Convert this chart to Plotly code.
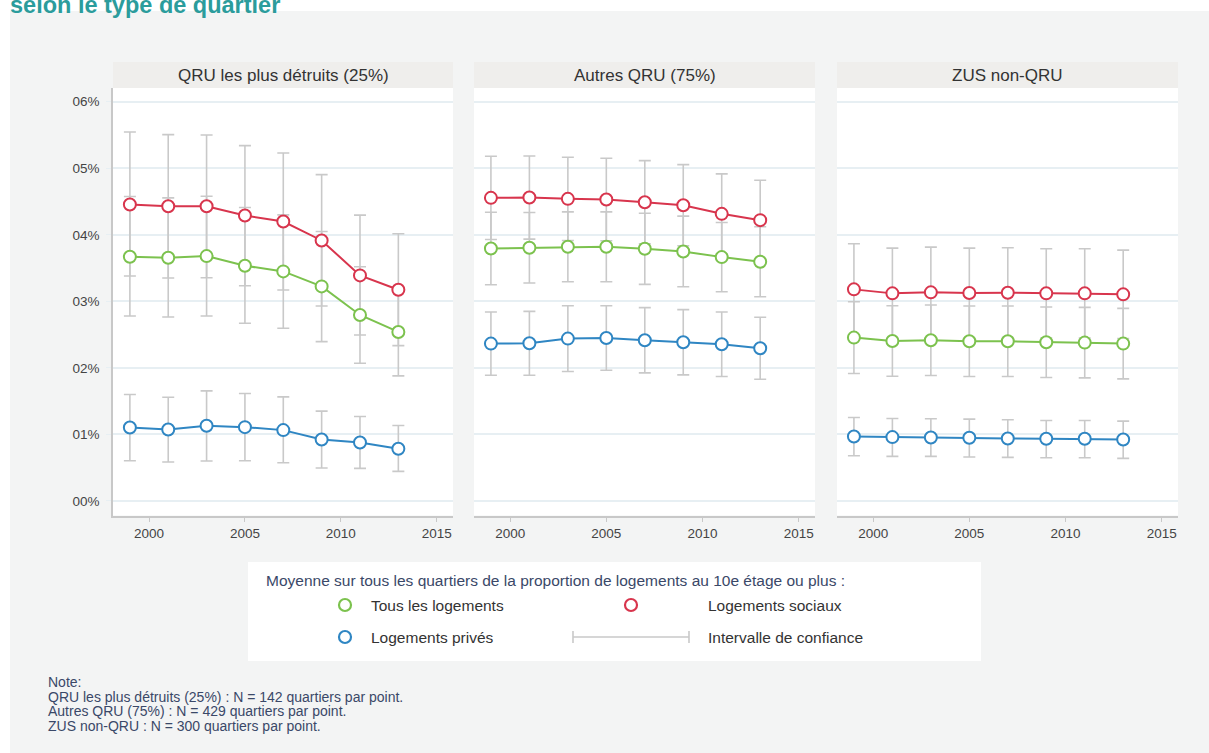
import plotly.graph_objects as go

W, H = 1209, 753

years = [1999, 2001, 2003, 2005, 2007, 2009, 2011, 2013]
panels = ["QRU les plus détruits (25%)", "Autres QRU (75%)", "ZUS non-QRU"]
series_names = ["Tous les logements", "Logements sociaux", "Logements privés"]
x_ticks = [2000, 2005, 2010, 2015]
y_ticks = [0, 1, 2, 3, 4, 5, 6]
y_ticklabels = ["00%", "01%", "02%", "03%", "04%", "05%", "06%"]

# Panel 1 : QRU les plus détruits (25%)
p1_tous = [3.67, 3.655, 3.68, 3.535, 3.45, 3.225, 2.795, 2.54]
p1_tous_lo = [2.78, 2.765, 2.78, 2.67, 2.595, 2.395, 2.07, 1.88]
p1_tous_hi = [4.575, 4.555, 4.58, 4.41, 4.30, 4.05, 3.52, 3.20]
p1_soc = [4.455, 4.43, 4.43, 4.29, 4.20, 3.915, 3.39, 3.175]
p1_soc_lo = [3.38, 3.35, 3.355, 3.235, 3.17, 2.93, 2.495, 2.335]
p1_soc_hi = [5.545, 5.505, 5.50, 5.34, 5.23, 4.905, 4.295, 4.015]
p1_priv = [1.105, 1.075, 1.13, 1.11, 1.065, 0.925, 0.88, 0.785]
p1_priv_lo = [0.605, 0.585, 0.60, 0.605, 0.575, 0.495, 0.49, 0.445]
p1_priv_hi = [1.60, 1.56, 1.655, 1.615, 1.565, 1.35, 1.27, 1.135]

# Panel 2 : Autres QRU (75%)
p2_tous = [3.795, 3.805, 3.82, 3.82, 3.79, 3.75, 3.665, 3.595]
p2_tous_lo = [3.25, 3.275, 3.295, 3.295, 3.255, 3.22, 3.145, 3.07]
p2_tous_hi = [4.34, 4.335, 4.345, 4.345, 4.325, 4.28, 4.185, 4.12]
p2_soc = [4.555, 4.56, 4.54, 4.53, 4.49, 4.445, 4.315, 4.22]
p2_soc_lo = [3.93, 3.935, 3.915, 3.91, 3.865, 3.835, 3.715, 3.62]
p2_soc_hi = [5.18, 5.185, 5.165, 5.15, 5.115, 5.055, 4.915, 4.82]
p2_priv = [2.365, 2.37, 2.44, 2.45, 2.415, 2.385, 2.355, 2.295]
p2_priv_lo = [1.89, 1.89, 1.945, 1.965, 1.925, 1.895, 1.87, 1.83]
p2_priv_hi = [2.84, 2.85, 2.935, 2.935, 2.905, 2.875, 2.84, 2.76]

# Panel 3 : ZUS non-QRU
p3_tous = [2.455, 2.405, 2.415, 2.40, 2.40, 2.385, 2.38, 2.365]
p3_tous_lo = [1.915, 1.875, 1.885, 1.87, 1.87, 1.855, 1.85, 1.835]
p3_tous_hi = [2.995, 2.935, 2.945, 2.93, 2.93, 2.915, 2.91, 2.895]
p3_soc = [3.18, 3.12, 3.135, 3.125, 3.13, 3.12, 3.12, 3.105]
p3_soc_lo = [2.495, 2.44, 2.455, 2.45, 2.455, 2.45, 2.45, 2.44]
p3_soc_hi = [3.865, 3.80, 3.815, 3.80, 3.805, 3.79, 3.79, 3.77]
p3_priv = [0.97, 0.96, 0.955, 0.95, 0.94, 0.935, 0.935, 0.925]
p3_priv_lo = [0.68, 0.67, 0.67, 0.66, 0.655, 0.65, 0.65, 0.64]
p3_priv_hi = [1.255, 1.24, 1.235, 1.23, 1.22, 1.21, 1.21, 1.20]

legend_title = "Moyenne sur tous les quartiers de la proportion de logements au 10e étage ou plus :"
ci_label = "Intervalle de confiance"
note_lines = [
    "Note:",
    "QRU les plus détruits (25%) : N = 142 quartiers par point.",
    "Autres QRU (75%) : N = 429 quartiers par point.",
    "ZUS non-QRU : N = 300 quartiers par point.",
]
title_text = "selon le type de quartier"

GREEN, RED, BLUE = "#7cc24e", "#d8354d", "#2f86c3"
colors = [GREEN, RED, BLUE]
CI_COLOR = "#c9c9c9"
GRID = "#e7eff3"
FONT = "Liberation Sans, Arial, sans-serif"


def px(x):
    return x / W


def py(y):
    return 1 - y / H


panel_data = [
    [(p1_tous, p1_tous_lo, p1_tous_hi), (p1_soc, p1_soc_lo, p1_soc_hi), (p1_priv, p1_priv_lo, p1_priv_hi)],
    [(p2_tous, p2_tous_lo, p2_tous_hi), (p2_soc, p2_soc_lo, p2_soc_hi), (p2_priv, p2_priv_lo, p2_priv_hi)],
    [(p3_tous, p3_tous_lo, p3_tous_hi), (p3_soc, p3_soc_lo, p3_soc_hi), (p3_priv, p3_priv_lo, p3_priv_hi)],
]

panel_x = [(113, 453), (474, 815), (837, 1178)]
plot_top, plot_bot = 88, 515.5
strip_top = 62

fig = go.Figure()

for i, pdata in enumerate(panel_data):
    ax = "" if i == 0 else str(i + 1)
    xr, yr = "x" + ax, "y" + ax
    for (m, lo, hi) in pdata:
        fig.add_trace(go.Scatter(
            x=years, y=m, mode="markers", xaxis=xr, yaxis=yr,
            marker=dict(size=1, opacity=0),
            error_y=dict(type="data", symmetric=False,
                         array=[h - v for h, v in zip(hi, m)],
                         arrayminus=[v - l for v, l in zip(m, lo)],
                         color=CI_COLOR, thickness=1.6, width=6),
            showlegend=False, hoverinfo="skip"))
    for k, (m, lo, hi) in enumerate(pdata):
        fig.add_trace(go.Scatter(
            x=years, y=m, mode="lines+markers", xaxis=xr, yaxis=yr,
            name=series_names[k],
            line=dict(color=colors[k], width=2),
            marker=dict(symbol="circle", size=12, color="white",
                        line=dict(color=colors[k], width=2)),
            showlegend=False))

layout = dict(
    width=W, height=H,
    margin=dict(l=0, r=0, t=0, b=0),
    paper_bgcolor="white", plot_bgcolor="white",
    font=dict(family=FONT, color="#444"),
    showlegend=False,
)

shapes = []
annotations = []

shapes.append(dict(type="rect", xref="paper", yref="paper", x0=px(10), x1=px(1212),
                   y0=py(756), y1=py(11), fillcolor="#f3f4f4", line=dict(width=0), layer="below"))

for i, (xa, xb) in enumerate(panel_x):
    key = "" if i == 0 else str(i + 1)
    layout["xaxis" + key] = dict(
        domain=[px(xa), px(xb)], range=[1998.12, 2015.85], anchor="y" + key,
        tickvals=x_ticks, ticks="outside", ticklen=5, tickcolor="#c8c8c8",
        showline=True, linecolor="#c8c8c8", linewidth=1.5, showgrid=False, zeroline=False,
        tickfont=dict(size=13.5, color="#444", family=FONT))
    layout["yaxis" + key] = dict(
        domain=[py(plot_bot), py(plot_top)], range=[-0.218, 6.206], anchor="x" + key,
        tickvals=y_ticks, ticktext=y_ticklabels,
        showticklabels=(i == 0), ticks="outside" if i == 0 else "", ticklen=5,
        ticklabelstandoff=4,
        tickcolor=GRID, showline=(i == 0), linecolor="#c8c8c8", linewidth=1.5,
        showgrid=True, gridcolor=GRID, gridwidth=2, zeroline=False,
        tickfont=dict(size=13.5, color="#444", family=FONT))
    shapes.append(dict(type="rect", xref="paper", yref="paper", x0=px(xa), x1=px(xb),
                       y0=py(plot_top), y1=py(strip_top), fillcolor="#efeeec",
                       line=dict(width=0), layer="below"))
    shapes.append(dict(type="rect", xref="paper", yref="paper", x0=px(xa), x1=px(xb),
                       y0=py(plot_bot), y1=py(plot_top), fillcolor="white",
                       line=dict(width=0), layer="below"))
    annotations.append(dict(text=panels[i], xref="paper", yref="paper",
                            x=px((xa + xb) / 2), y=py(75), xanchor="center", yanchor="middle",
                            showarrow=False, font=dict(size=17, color="#333", family=FONT)))

# title (cut at top, as in the source)
annotations.append(dict(text="<b>" + title_text + "</b>", xref="paper", yref="paper",
                        x=px(8), y=py(6), xanchor="left", yanchor="bottom", yshift=-14,
                        showarrow=False, font=dict(size=23.5, color="#2b9c9c", family=FONT)))

shapes.append(dict(type="rect", xref="paper", yref="paper", x0=px(248), x1=px(981),
                   y0=py(661), y1=py(562), fillcolor="white", line=dict(width=0), layer="below"))
annotations.append(dict(text=legend_title, xref="paper", yref="paper", x=px(264), y=py(580),
                        xanchor="left", yanchor="middle", showarrow=False,
                        font=dict(size=15.5, color="#3a4868", family=FONT)))

leg_items = [
    (345, 605, GREEN, series_names[0], 369),
    (631, 605, RED, series_names[1], 706),
    (345, 637, BLUE, series_names[2], 369),
]
for cx, cy, col, lab, tx in leg_items:
    r = 6
    shapes.append(dict(type="circle", xref="paper", yref="paper",
                       x0=px(cx - r), x1=px(cx + r), y0=py(cy + r), y1=py(cy - r),
                       fillcolor="white", line=dict(color=col, width=2.2)))
    annotations.append(dict(text=lab, xref="paper", yref="paper", x=px(tx), y=py(cy),
                            xanchor="left", yanchor="middle", showarrow=False,
                            font=dict(size=15.5, color="#333", family=FONT)))
shapes.append(dict(type="line", xref="paper", yref="paper", x0=px(573), x1=px(689),
                   y0=py(637), y1=py(637), line=dict(color=CI_COLOR, width=1.6)))
for ex in (573, 689):
    shapes.append(dict(type="line", xref="paper", yref="paper", x0=px(ex), x1=px(ex),
                       y0=py(631), y1=py(643), line=dict(color=CI_COLOR, width=1.6)))
annotations.append(dict(text=ci_label, xref="paper", yref="paper", x=px(706), y=py(637),
                        xanchor="left", yanchor="middle", showarrow=False,
                        font=dict(size=15.5, color="#333", family=FONT)))

for j, line in enumerate(note_lines):
    annotations.append(dict(text=line, xref="paper", yref="paper", x=px(46), y=py(682 + 14.7 * j),
                            xanchor="left", yanchor="middle", showarrow=False,
                            font=dict(size=14, color="#3a4868", family=FONT)))

layout["shapes"] = shapes
layout["annotations"] = annotations
fig.update_layout(**layout)

fig.write_html("out.html", config={"displayModeBar": False},
               post_script="document.body.style.margin='0';document.body.style.overflow='hidden';")
